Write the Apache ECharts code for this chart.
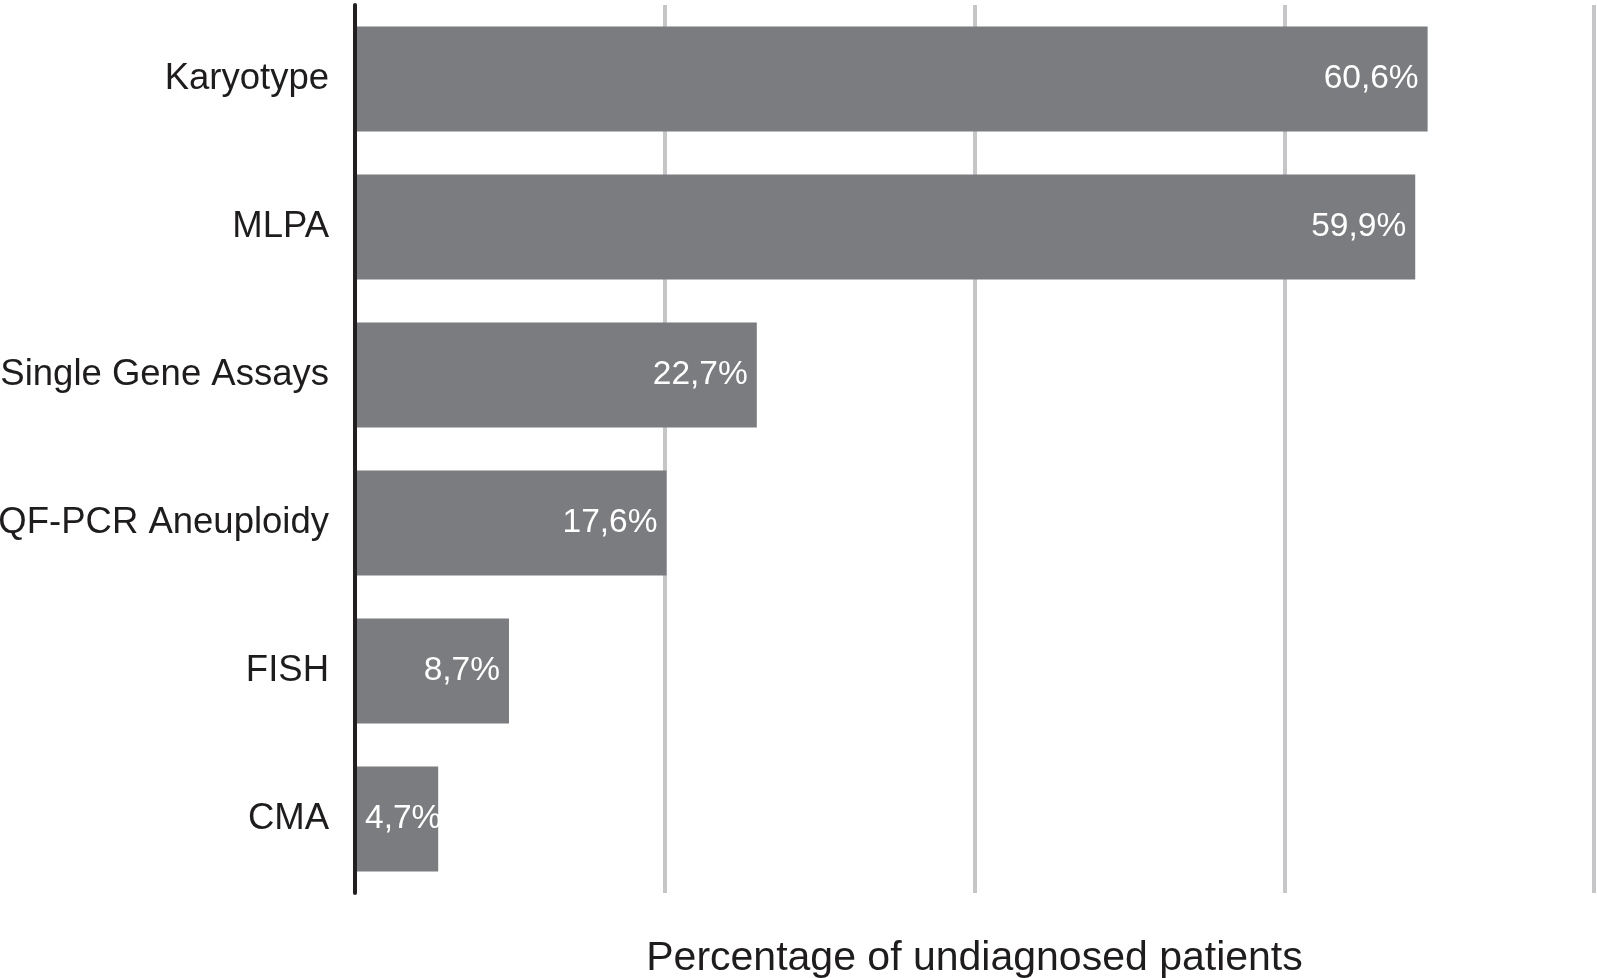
<!DOCTYPE html>
<html>
<head>
<meta charset="utf-8">
<script src="https://cdn.jsdelivr.net/npm/echarts@6/dist/echarts.min.js"></script>
<style>
html,body{margin:0;padding:0;background:#fff;}
#chart{width:1597px;height:978px;}
</style>
</head>
<body>
<div id="chart"></div>
<script>
const categories = ['Karyotype', 'MLPA', 'Single Gene Assays', 'QF-PCR Aneuploidy', 'FISH', 'CMA'];
const values = [60.6, 59.9, 22.7, 17.6, 8.7, 4.7];
const axisTitle = 'Percentage of undiagnosed patients';

const FONT = '"Liberation Sans", Arial, Helvetica, sans-serif';
const chart = echarts.init(document.getElementById('chart'), null, {renderer: 'canvas'});

const seriesData = values.map(v => {
  const item = {value: v};
  if (v < 6) {
    item.label = {position: 'insideLeft', distance: 10};
  }
  return item;
});

chart.setOption({
  animation: false,
  backgroundColor: '#ffffff',
  grid: {left: 355, right: 3, top: 5, bottom: 85, containLabel: false, outerBoundsMode: 'none'},
  xAxis: {
    type: 'value',
    min: 0,
    max: 70,
    interval: 17.5,
    name: axisTitle,
    nameLocation: 'middle',
    nameGap: 45,
    nameTextStyle: {fontFamily: FONT, fontSize: 41, color: '#1f1c1d'},
    axisLine: {show: false},
    axisTick: {show: false},
    axisLabel: {show: false},
    splitLine: {show: true, lineStyle: {color: '#c6c6c8', width: 4}}
  },
  yAxis: {
    type: 'category',
    data: categories,
    inverse: true,
    axisLine: {show: true, lineStyle: {color: '#231f20', width: 4}},
    axisTick: {show: false},
    axisLabel: {fontFamily: FONT, fontSize: 36.5, color: '#1f1c1d', margin: 26, padding: [5, 0, 0, 0]},
    z: 10
  },
  series: [{
    type: 'bar',
    data: seriesData,
    barCategoryGap: '29%',
    itemStyle: {color: '#7b7c80'},
    label: {
      show: true,
      position: 'insideRight',
      distance: 9,
      color: '#ffffff',
      fontFamily: FONT,
      fontSize: 33.5,
      padding: [6, 0, 0, 0],
      formatter: p => String(p.value).replace('.', ',') + '%'
    }
  }]
});
</script>
</body>
</html>
